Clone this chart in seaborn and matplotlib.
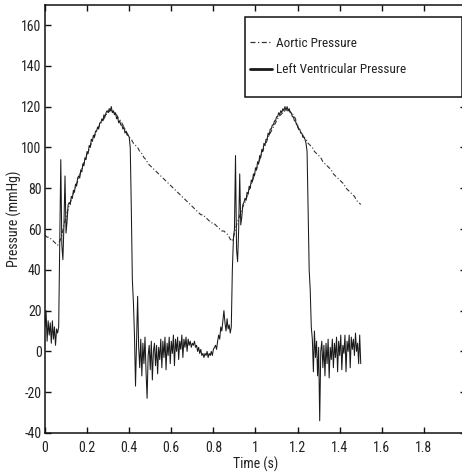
import numpy as np
import pandas as pd
import matplotlib
matplotlib.use("Agg")
import matplotlib.pyplot as plt
import seaborn as sns
from matplotlib.patches import Rectangle
from matplotlib.lines import Line2D
from matplotlib import font_manager as fm

# ---------------- data ----------------
lv_step = 0.005  # s, sampling of the left ventricular trace
lv_pressure = [
    12, 20, 5, 15, 8, 14, 4, 15, 6, 12,            # 0.000-0.045
    3, 11, 9, 12, 55, 94, 52, 45, 62, 86,          # 0.050-0.095
    58, 64, 72, 73, 72, 76, 75, 79, 78, 82,        # 0.100-0.145
    81, 85, 86, 85, 89, 88, 92, 91, 95, 94,        # 0.150-0.195
    98, 97, 101, 100, 104, 103, 106, 105, 108, 108,  # 0.200-0.245
    110, 109, 112, 112, 114, 113, 116, 115, 117, 118,  # 0.250-0.295
    117, 119, 118, 120, 117, 118, 116, 117, 114, 115,  # 0.300-0.345
    112, 113, 111, 111, 109, 110, 107, 108, 106, 106,  # 0.350-0.395
    105, 100, 70, 35, 24, 8, -17, 5, 27, 2,        # 0.400-0.445
    -8, 6, -12, 4, -6, 7, -10, -23, -2, 3,         # 0.450-0.495
    -9, 5, -14, 0, 4, -7, 3, -11, 2, -4,           # 0.500-0.545
    6, -8, 5, -3, 7, -9, 4, -2, 7, -6,             # 0.550-0.595
    5, -1, 8, -7, 6, 0, 7, -4, 5, 1,               # 0.600-0.645
    8, -3, 6, 2, 7, 0, 6, 3, 5, 2,                 # 0.650-0.695
    4, 3, 5, 2, 3, 0, 2, -1, 1, -2,                # 0.700-0.745
    -1, -3, -1, -2, 0, -3, -1, -2, 0, -2,          # 0.750-0.795
    1, 2, 3, 1, 5, 8, 6, 12, 10, 15,               # 0.800-0.845
    20, 14, 10, 16, 11, 13, 9, 12, 40, 55,         # 0.850-0.895
    60, 96, 50, 44, 60, 87, 62, 66, 72, 73,        # 0.900-0.945
    75, 74, 78, 77, 81, 80, 84, 83, 87, 86,        # 0.950-0.995
    90, 89, 93, 92, 96, 95, 99, 98, 102, 101,      # 1.000-1.045
    104, 104, 107, 106, 109, 109, 111, 111, 113, 113,  # 1.050-1.095
    115, 115, 117, 116, 118, 117, 119, 118, 120, 118,  # 1.100-1.145
    120, 118, 119, 117, 117, 115, 115, 113, 113, 111,  # 1.150-1.195
    111, 109, 109, 107, 107, 105, 105, 104, 102, 98,   # 1.200-1.245
    70, 40, 30, 12, 6, -10, 10, -3, 5, -12,        # 1.250-1.295
    2, -34, 0, 5, -8, 3, -12, 4, -6, 6,            # 1.300-1.345
    -13, 2, -4, 6, -8, 4, -3, 7, -10, 5,           # 1.350-1.395
    -2, 8, -9, 3, -1, 8, -10, 5, 0, 8,             # 1.400-1.445
    -8, 7, 1, 6, -2, 9, 0, 4, -6, 8,               # 1.450-1.495
    -6,                                            # 1.500
]

ao_step = 0.01  # s, sampling of the aortic trace
aortic_pressure = [
    57, 56, 56, 55, 54, 53, 52, 54, 57, 62,        # 0.00-0.09
    66, 70, 73, 76, 79, 82, 85, 88, 91, 94,        # 0.10-0.19
    97, 99, 102, 104, 107, 109, 111, 113, 114, 116,  # 0.20-0.29
    117, 118, 118, 117, 116, 114, 113, 111, 109, 107,  # 0.30-0.39
    105, 104, 102, 101, 100, 98, 97, 95, 94, 92,   # 0.40-0.49
    91, 90, 89, 88, 87, 86, 85, 84, 83, 82,        # 0.50-0.59
    81, 80, 79, 78, 77, 76, 75, 74, 73, 72,        # 0.60-0.69
    71, 70, 69, 68, 67, 67, 66, 65, 64, 63,        # 0.70-0.79
    63, 62, 61, 60, 59, 59, 58, 57, 55, 54,        # 0.80-0.89
    58, 62, 65, 68, 71, 73, 76, 79, 82, 85,        # 0.90-0.99
    88, 91, 94, 97, 100, 102, 105, 107, 109, 111,  # 1.00-1.09
    113, 115, 116, 117, 118, 118, 118, 117, 116, 114,  # 1.10-1.19
    110, 108, 107, 105, 104, 102, 101, 100, 98, 97,    # 1.20-1.29
    96, 95, 93, 92, 91, 90, 89, 87, 86, 85,        # 1.30-1.39
    84, 83, 82, 80, 79, 78, 77, 76, 74, 73,        # 1.40-1.49
    72,                                            # 1.50
]

series_names = ["Aortic Pressure", "Left Ventricular Pressure"]
x_ticks = [0, 0.2, 0.4, 0.6, 0.8, 1.0, 1.2, 1.4, 1.6, 1.8]
x_tick_labels = ["0", "0.2", "0.4", "0.6", "0.8", "1", "1.2", "1.4", "1.6", "1.8"]
y_ticks = [-40, -20, 0, 20, 40, 60, 80, 100, 120, 140, 160]
x_label = "Time (s)"
y_label = "Pressure (mmHg)"

lv_time = np.round(np.arange(len(lv_pressure)) * lv_step, 4)
ao_time = np.round(np.arange(len(aortic_pressure)) * ao_step, 4)
lv_df = pd.DataFrame({"t": lv_time, "p": lv_pressure})
ao_df = pd.DataFrame({"t": ao_time, "p": aortic_pressure})

# ---------------- style ----------------
sns.set_theme(style="white")
available = {f.name for f in fm.fontManager.ttflist}
condensed = [n for n in ["Liberation Sans Narrow", "Roboto Condensed",
                         "Open Sans Condensed", "DejaVu Sans Condensed"]
             if n in available]
FONT = (condensed[:1] if condensed else []) + ["Liberation Sans", "DejaVu Sans"]
plt.rcParams["font.family"] = FONT
plt.rcParams["font.stretch"] = "condensed"
plt.rcParams["axes.unicode_minus"] = False
FS = 10 if condensed else 8.5
LFS = 9.5 if condensed else 8.2

W, H = 462, 473
fig = plt.figure(figsize=(W / 100, H / 100), dpi=100)
ax = fig.add_axes([45 / W, (H - 433) / H, (466 - 45) / W, (433 - 4.6) / H])

ink = "#1a1a1a"
sns.lineplot(data=ao_df, x="t", y="p", ax=ax, estimator=None, sort=False,
             color="#333333", linewidth=0.8, linestyle=(0, (4, 2, 1, 2)))
sns.lineplot(data=lv_df, x="t", y="p", ax=ax, estimator=None, sort=False,
             color=ink, linewidth=0.75)

ax.set_xlim(0, 2)
ax.set_ylim(-40, 170)
ax.set_xticks(x_ticks)
ax.set_xticklabels(x_tick_labels)
ax.set_yticks(y_ticks)
ax.set_yticklabels([str(v) for v in y_ticks])
ax.set_xlabel(x_label, fontsize=FS, color="#222222", labelpad=1)
ax.set_ylabel(y_label, fontsize=FS, color="#222222", labelpad=-0.5)

ax.tick_params(axis="both", which="both", direction="in", length=4, width=1,
               colors="#111111", labelcolor="#222222", labelsize=FS,
               top=True, right=True, bottom=True, left=True)
ax.tick_params(axis="x", pad=6)
ax.tick_params(axis="y", pad=2.5)
for s in ax.spines.values():
    s.set_visible(True)
    s.set_color("#111111")
    s.set_linewidth(1.1)
ax.grid(False)

# legend (matlab-style box)
handles = [
    Line2D([], [], color="#333333", linewidth=0.9, linestyle=(0, (4, 2, 1, 2))),
    Line2D([], [], color=ink, linewidth=2.0),
]
leg = fig.legend(handles, series_names, loc="upper left",
                 bbox_to_anchor=(250 / W, 1 - 37 / H), frameon=False,
                 fontsize=LFS, handlelength=1.7, handletextpad=0.3,
                 labelspacing=1.0, borderpad=0.0, borderaxespad=0.0)
for t in leg.get_texts():
    t.set_color("#222222")
fig.add_artist(Rectangle((245 / W, 1 - 97 / H), (462 - 245) / W, 80 / H,
                         transform=fig.transFigure, fill=True, facecolor="white",
                         edgecolor="#111111", linewidth=1.1, zorder=3))
leg.set_zorder(4)

fig.savefig("out.png", dpi=100)
